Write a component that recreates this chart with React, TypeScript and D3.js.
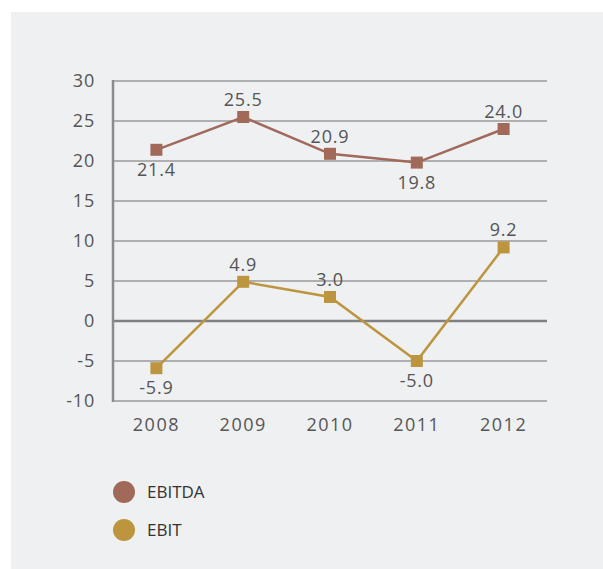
import React from "react";
import * as d3 from "d3";

const years = ["2008", "2009", "2010", "2011", "2012"];
const ebitda = [21.4, 25.5, 20.9, 19.8, 24.0];
const ebit = [-5.9, 4.9, 3.0, -5.0, 9.2];
const ebitdaLabelPos = ["below", "above", "above", "below", "above"];
const ebitLabelPos = ["below", "above", "above", "below", "above"];
const yTicks = [-10, -5, 0, 5, 10, 15, 20, 25, 30];
const seriesNames = ["EBITDA", "EBIT"];
const colors = ["#a1695a", "#bc953e"];

const W = 603;
const H = 569;
const left = 113;
const right = 547;
const top = 81;
const bottom = 401;
const FONT = "'Open Sans', Lato, sans-serif";

export default function App() {
  const x = d3.scaleBand().domain(years).range([left, right]);
  const y = d3.scaleLinear().domain([-10, 30]).range([bottom, top]);
  const cx = (d: string) => (x(d) as number) + x.bandwidth() / 2;
  const line = d3
    .line<number>()
    .x((_, i) => cx(years[i]))
    .y((v) => y(v));

  const series = [
    { name: seriesNames[0], values: ebitda, pos: ebitdaLabelPos, color: colors[0] },
    { name: seriesNames[1], values: ebit, pos: ebitLabelPos, color: colors[1] },
  ];

  return (
    <svg
      width={W}
      height={H}
      style={{ position: "absolute", left: 0, top: 0 }}
      fontFamily={FONT}
    >
      <rect x={0} y={0} width={W} height={H} fill="#ffffff" />
      <rect x={11} y={12} width={W - 11} height={H - 12} fill="#eff0f2" />
      {yTicks.map((t) => (
        <g key={t}>
          <line
            x1={left}
            x2={right}
            y1={y(t)}
            y2={y(t)}
            stroke={t === 0 ? "#808080" : "#9a9a9a"}
            strokeWidth={t === 0 ? 2.5 : 1.3}
          />
          <text
            x={95}
            y={y(t)}
            dy="0.35em"
            textAnchor="end"
            fontSize={18}
            letterSpacing={0.8}
            fill="#555"
          >
            {t}
          </text>
        </g>
      ))}
      <line x1={left} x2={left} y1={top - 1} y2={bottom + 1} stroke="#8c8c8c" strokeWidth={2.5} />
      {years.map((yr) => (
        <text
          key={yr}
          x={cx(yr)}
          y={431}
          textAnchor="middle"
          fontSize={18}
          letterSpacing={1.5}
          fill="#555"
        >
          {yr}
        </text>
      ))}
      {series.map((s) => (
        <g key={s.name}>
          <path d={line(s.values) || ""} fill="none" stroke={s.color} strokeWidth={2.5} />
          {s.values.map((v, i) => (
            <rect
              key={i}
              x={cx(years[i]) - 6}
              y={y(v) - 6}
              width={12}
              height={12}
              fill={s.color}
            />
          ))}
          {s.values.map((v, i) => (
            <text
              key={"l" + i}
              x={cx(years[i])}
              y={s.pos[i] === "above" ? y(v) - 11 : y(v) + 26}
              textAnchor="middle"
              fontSize={18}
              letterSpacing={0.8}
              fill="#555"
            >
              {v.toFixed(1)}
            </text>
          ))}
        </g>
      ))}
      {series.map((s, i) => (
        <g key={"leg" + s.name}>
          <circle cx={124} cy={492 + i * 38} r={11} fill={s.color} />
          <text x={147} y={492 + i * 38} dy="0.35em" fontSize={17} fill="#333">
            {s.name}
          </text>
        </g>
      ))}
    </svg>
  );
}
